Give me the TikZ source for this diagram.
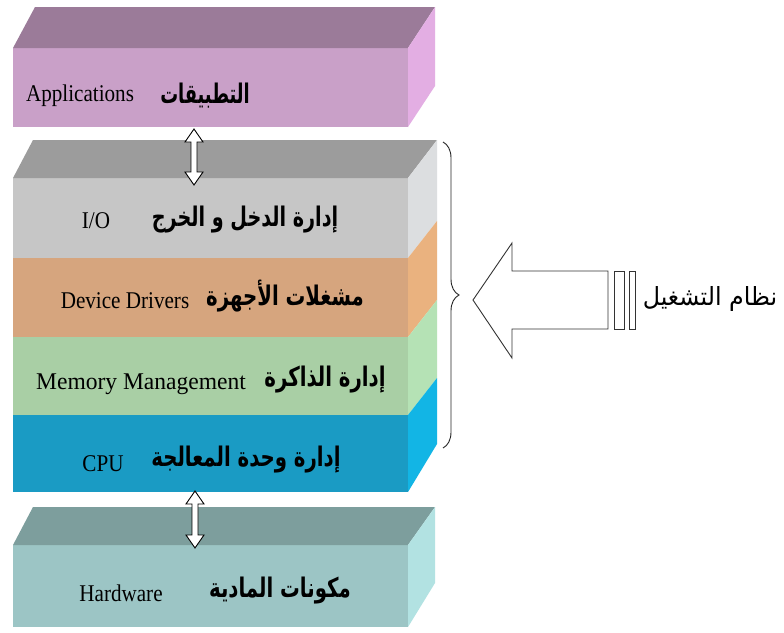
\documentclass[tikz,border=0pt]{standalone}
\usepackage{fontspec}
\usepackage{graphicx}
\setmainfont{Liberation Serif}
\newfontfamily\arb[Script=Arabic]{DejaVu Sans}
\TeXXeTstate=1
\usetikzlibrary{decorations.pathreplacing,calc}
\definecolor{appTop}{HTML}{9B7B99}
\definecolor{appFront}{HTML}{C9A0C8}
\definecolor{appSide}{HTML}{E3AEE3}
\definecolor{osTop}{HTML}{9C9C9C}
\definecolor{ioFront}{HTML}{C6C6C6}
\definecolor{ioSide}{HTML}{DCDEE0}
\definecolor{ddFront}{HTML}{D6A57E}
\definecolor{ddSide}{HTML}{EAB27F}
\definecolor{memFront}{HTML}{A9CFA5}
\definecolor{memSide}{HTML}{B5E2B5}
\definecolor{cpuFront}{HTML}{1A9BC4}
\definecolor{cpuSide}{HTML}{12B5E5}
\definecolor{hwTop}{HTML}{7D9E9D}
\definecolor{hwFront}{HTML}{9CC5C5}
\definecolor{hwSide}{HTML}{B2E2E2}
\newcommand\entxt[2][0.88]{\scalebox{#1}[1]{#2}}
\newcommand\artxt[2][0.73]{\scalebox{#1}[1]{\beginR #2\endR}}
\tikzset{
  en/.style={font=\fontsize{24}{24}\selectfont, anchor=base, inner sep=0pt},
  ar/.style={font=\fontsize{27}{27}\selectfont\arb\bfseries, anchor=base, inner sep=0pt},
  arr/.style={font=\fontsize{25}{25}\selectfont\arb, anchor=base, inner sep=0pt},
  harrow/.style={draw=black, fill=white, line width=0.9pt, line join=miter},
  bigarrow/.style={draw=black!80, fill=white, line width=0.9pt, line join=miter}
}
\newcommand\vdarrow[2]{\draw[harrow] (#1) -- ($(#1)+(9,13)$) -- ($(#1)+(3,13)$) -- ($(#2)+(3,-13)$) -- ($(#2)+(9,-13)$) -- (#2) -- ($(#2)+(-9,-13)$) -- ($(#2)+(-3,-13)$) -- ($(#1)+(-3,13)$) -- ($(#1)+(-9,13)$) -- cycle;}
\begin{document}
\begin{tikzpicture}[x=1pt,y=-1pt]
\useasboundingbox (0,0) rectangle (784,632);
\fill[white] (0,0) rectangle (784,632);
% Applications block
\fill[appFront] (13,48) rectangle (408,127);
\fill[appTop] (13,48) -- (408,48) -- (435,7) -- (35,7) -- cycle;
\fill[appSide] (408,48) -- (435,7) -- (435,86) -- (408,127) -- cycle;
% OS block
\fill[ioFront] (13,178) rectangle (408,258);
\fill[ddFront] (13,258) rectangle (408,337);
\fill[memFront] (13,337) rectangle (408,415);
\fill[cpuFront] (13,415) rectangle (408,492);
\fill[osTop] (13,178) -- (408,178) -- (437,140) -- (33,140) -- cycle;
\fill[ioSide] (408,178) -- (437,140) -- (437,221) -- (408,258) -- cycle;
\fill[ddSide] (408,258) -- (437,221) -- (437,300) -- (408,337) -- cycle;
\fill[memSide] (408,337) -- (437,300) -- (437,378) -- (408,415) -- cycle;
\fill[cpuSide] (408,415) -- (437,378) -- (437,444) -- (408,492) -- cycle;
% Hardware block
\fill[hwFront] (13,545) rectangle (408,627);
\fill[hwTop] (13,545) -- (408,545) -- (435,507) -- (33,507) -- cycle;
\fill[hwSide] (408,545) -- (435,507) -- (435,583) -- (408,627) -- cycle;
% labels
\node[en] (apps) at (80,101) {\entxt{Applications}};
\node[ar] (appsA) at (205,103) {\artxt[0.66]{التطبيقات}};
\node[en] (io) at (96,228) {\entxt{I/O}};
\node[ar] (ioA) at (245,226) {\artxt[0.71]{إدارة الدخل و الخرج}};
\node[en] (dd) at (125,308) {\entxt{Device Drivers}};
\node[ar] (ddA) at (285,305) {\artxt{مشغلات الأجهزة}};
\node[en] (mem) at (141,389) {\entxt[0.98]{Memory Management}};
\node[ar] (memA) at (325,386) {\artxt{إدارة الذاكرة}};
\node[en] (cpu) at (103,471) {\entxt{CPU}};
\node[ar] (cpuA) at (246,466) {\artxt{إدارة وحدة المعالجة}};
\node[en] (hw) at (121,601) {\entxt{Hardware}};
\node[ar] (hwA) at (280,597) {\artxt{مكونات المادية}};
\node[arr] (os) at (710,305) {\artxt[0.95]{نظام التشغيل}};
% vertical double arrows
\coordinate (a1t) at (194,129);
\coordinate (a1b) at (194,185);
\coordinate (a2t) at (195,491);
\coordinate (a2b) at (195,548);
\vdarrow{a1t}{a1b}
\vdarrow{a2t}{a2b}
% brace
\coordinate (bt) at (443,142);
\coordinate (bb) at (443,448);
\draw[black!85, line width=0.9pt, decorate, decoration={brace, amplitude=16pt}] (bt) -- (bb);
% big left arrow with stripes
\coordinate (tip) at (473,300);
\draw[bigarrow] (tip) -- (512,243) -- (512,271) -- (608,271) -- (608,329) -- (512,329) -- (512,358) -- cycle;
\draw[bigarrow] (614,271) rectangle (624,329);
\draw[bigarrow] (629,271) rectangle (635,329);
\end{tikzpicture}
\end{document}
